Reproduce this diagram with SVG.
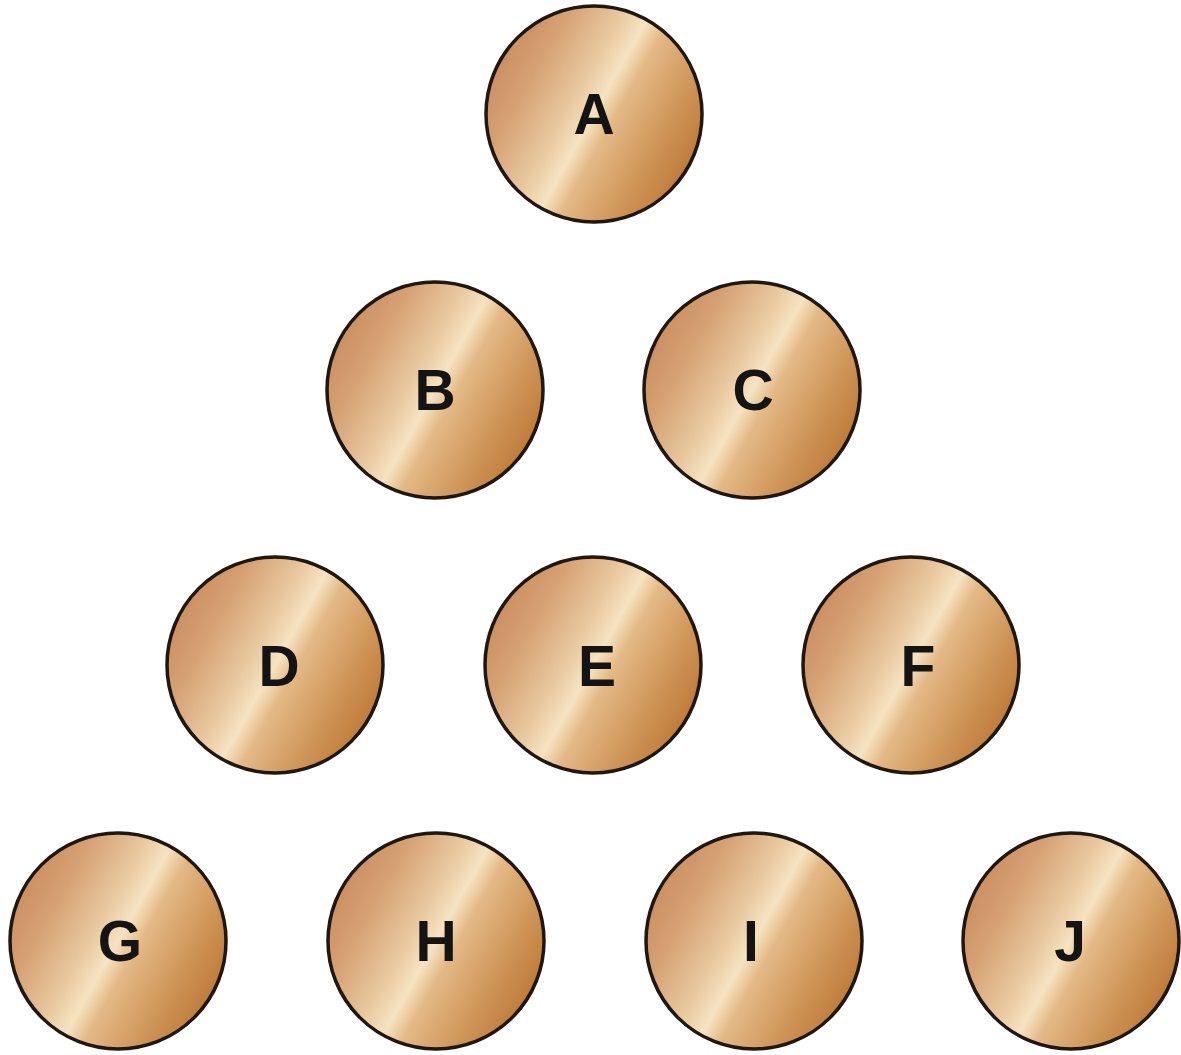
<svg xmlns="http://www.w3.org/2000/svg" width="1181" height="1055" viewBox="0 0 1181 1055">
<defs>
<linearGradient id="gold" x1="0" y1="0.22" x2="1" y2="0.78">
<stop offset="0" stop-color="#c8895a"/>
<stop offset="0.2" stop-color="#d5a072"/>
<stop offset="0.4" stop-color="#e9c9a0"/>
<stop offset="0.5" stop-color="#f6e3c1"/>
<stop offset="0.58" stop-color="#e4b986"/>
<stop offset="0.78" stop-color="#cf9558"/>
<stop offset="1" stop-color="#b8722f"/>
</linearGradient>
</defs>
<style>
.c{fill:url(#gold);stroke:#1e1712;stroke-width:3.5}
.t{font-family:"Liberation Sans",Arial,sans-serif;font-weight:bold;font-size:57px;fill:#141414;text-anchor:middle}
</style>
<rect width="1181" height="1055" fill="#ffffff"/>
<g id="A"><circle class="c" cx="594" cy="114" r="108"/><text class="t" x="594" y="134">A</text></g>
<g id="B"><circle class="c" cx="435" cy="390" r="108"/><text class="t" x="435" y="410">B</text></g>
<g id="C"><circle class="c" cx="752" cy="390" r="108"/><text class="t" x="753" y="410">C</text></g>
<g id="D"><circle class="c" cx="275" cy="665" r="108"/><text class="t" x="279" y="686">D</text></g>
<g id="E"><circle class="c" cx="593" cy="665" r="108"/><text class="t" x="597" y="686">E</text></g>
<g id="F"><circle class="c" cx="911" cy="665" r="108"/><text class="t" x="918" y="686">F</text></g>
<g id="G"><circle class="c" cx="118" cy="941" r="108"/><text class="t" x="120" y="961">G</text></g>
<g id="H"><circle class="c" cx="436" cy="941" r="108"/><text class="t" x="436" y="961">H</text></g>
<g id="I"><circle class="c" cx="754" cy="941" r="108"/><text class="t" x="751" y="961">I</text></g>
<g id="J"><circle class="c" cx="1071" cy="941" r="108"/><text class="t" x="1070" y="961">J</text></g>
</svg>
